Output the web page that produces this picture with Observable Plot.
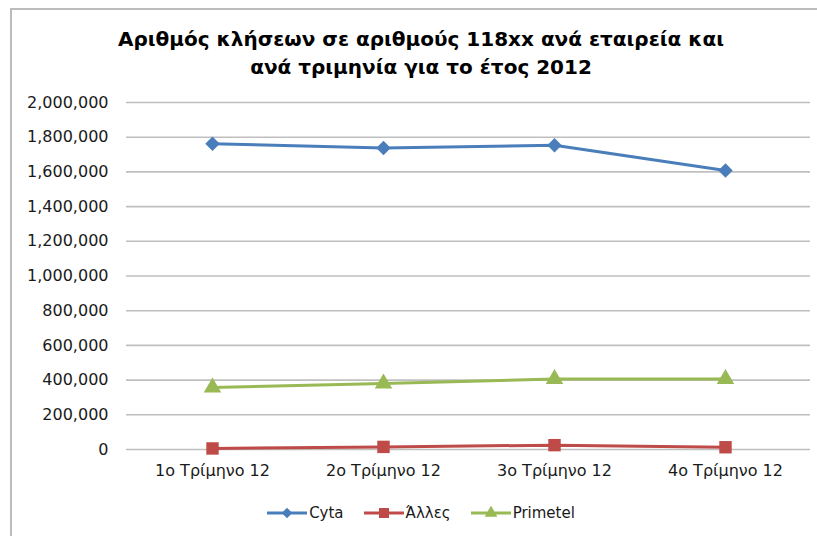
<!DOCTYPE html>
<html>
<head>
<meta charset="utf-8">
<script src="https://cdn.jsdelivr.net/npm/d3@7"></script>
<script src="https://cdn.jsdelivr.net/npm/@observablehq/plot@0.6"></script>
<style>
  html, body { margin: 0; padding: 0; background: #fff; overflow: hidden; }
  #wrap { position: relative; width: 817px; height: 536px; font-family: "DejaVu Sans", sans-serif; }
  #frame { position: absolute; left: 10px; top: 8px; width: 900px; height: 700px;
           border-left: 2px solid #bcbcbc; border-top: 2px solid #bcbcbc; }
  #title { position: absolute; left: 10px; width: 822px; top: 25px; text-align: center;
           font-weight: bold; font-size: 20px; line-height: 28px; color: #000; }
  #chart { position: absolute; left: 0; top: 0; }
  #legend { position: absolute; top: 504px; left: 0; width: 842px; display: flex; justify-content: center;
            font-size: 15px; color: #1a1a1a; }
  .item { display: flex; align-items: center; margin: 0 10px; }
  .item svg { margin-right: 2px; }
</style>
</head>
<body>
<div id="wrap">
  <div id="frame"></div>
  <div id="chart"></div>
  <div id="title">Αριθμός κλήσεων σε αριθμούς 118xx ανά εταιρεία και<br>ανά τριμηνία για το έτος 2012</div>
  <div id="legend"></div>
</div>
<script>
const categories = ["1o Τρίμηνο 12", "2o Τρίμηνο 12", "3o Τρίμηνο 12", "4o Τρίμηνο 12"];
const seriesNames = ["Cyta", "Άλλες", "Primetel"];
const cyta = [1762000, 1738000, 1754000, 1608000];
const alles = [6000, 15000, 25000, 13000];
const primetel = [357000, 380000, 406000, 406000];
const yTicks = [0, 200000, 400000, 600000, 800000, 1000000, 1200000, 1400000, 1600000, 1800000, 2000000];
const colors = ["#4a7ebb", "#be4b48", "#98b954"];
const symbols = ["diamond2", "square", "triangle"];

const seriesValues = [cyta, alles, primetel];
const rows = [];
seriesNames.forEach((s, i) => {
  categories.forEach((c, j) => rows.push({series: s, cat: c, value: seriesValues[i][j]}));
});

const chart = Plot.plot({
  width: 817,
  height: 495,
  marginLeft: 126,
  marginRight: 7,
  marginTop: 102,
  marginBottom: 46,
  style: {fontFamily: "DejaVu Sans, sans-serif", fontSize: "16px", color: "#1a1a1a", background: "transparent"},
  x: {type: "point", domain: categories, padding: 0.5, label: null},
  y: {domain: [0, 2000000], label: null},
  color: {domain: seriesNames, range: colors},
  symbol: {domain: seriesNames, range: symbols},
  marks: [
    Plot.ruleY(yTicks, {stroke: "#bfbfbf", strokeWidth: 1.6}),
    Plot.axisY({ticks: yTicks, tickFormat: d3.format(","), tickSize: 0, tickPadding: 18, fontSize: 16, label: null}),
    Plot.axisX({tickSize: 0, tickPadding: 15, fontSize: 16, label: null}),
    ...seriesNames.map(s => Plot.line(rows.filter(d => d.series === s), {x: "cat", y: "value", stroke: "series", strokeWidth: 3})),
    ...seriesNames.map((s, i) => Plot.dot(rows.filter(d => d.series === s), {x: "cat", y: "value", fill: "series", symbol: "series", r: i === 1 ? 7 : 6.5, stroke: "none"}))
  ]
});
document.getElementById("chart").appendChild(chart);

// legend
const legend = document.getElementById("legend");
const symPaths = {
  diamond2: d3.symbol(d3.symbolDiamond2, 70)(),
  square: d3.symbol(d3.symbolSquare, 100)(),
  triangle: d3.symbol(d3.symbolTriangle, 70)()
};
seriesNames.forEach((s, i) => {
  const item = document.createElement("div");
  item.className = "item";
  item.innerHTML = `<svg width="40" height="14"><line x1="0" x2="40" y1="7" y2="7" stroke="${colors[i]}" stroke-width="3"/>` +
    `<path transform="translate(20,7)" d="${symPaths[symbols[i]]}" fill="${colors[i]}"/></svg><span>${s}</span>`;
  legend.appendChild(item);
});
</script>
</body>
</html>
